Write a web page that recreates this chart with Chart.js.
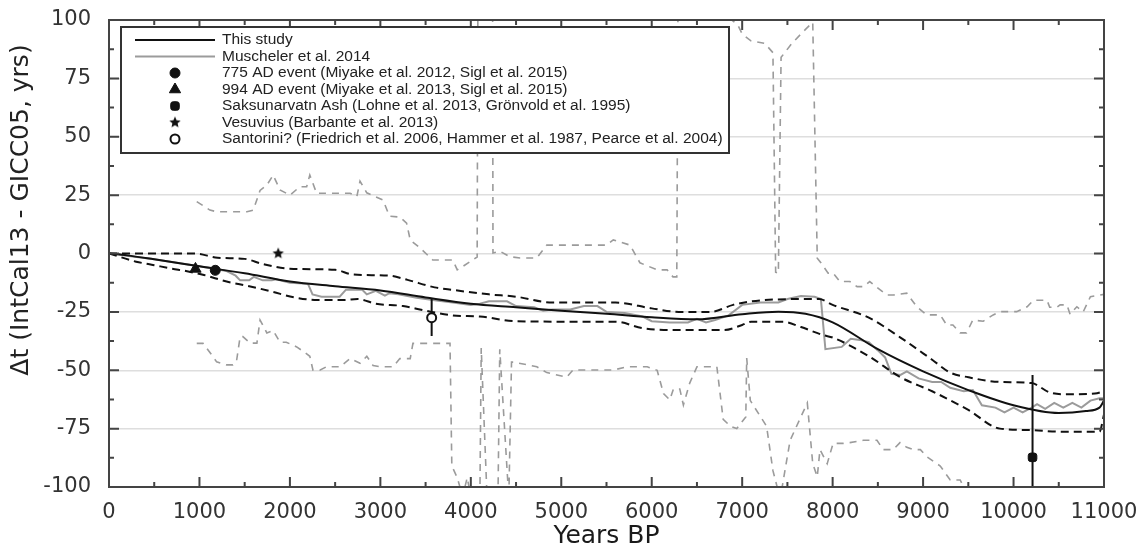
<!DOCTYPE html>
<html lang="en">
<head>
<meta charset="UTF-8">
<title>IntCal13 - GICC05</title>
<script src="https://cdn.jsdelivr.net/npm/chart.js"></script>
<style>
  body { margin: 0; background: #fff; }
  #myChart { display: block; }
</style>
</head>
<body>
<canvas id="myChart" width="1145" height="551"></canvas>
<script>
// ---- data (years BP, delta t in yrs) ----
const xTicks = [0, 1000, 2000, 3000, 4000, 5000, 6000, 7000, 8000, 9000, 10000, 11000];
const yTicks = [-100, -75, -50, -25, 0, 25, 50, 75, 100];

const studyYears = [0, 200, 500, 1000, 1500, 2000, 2500, 3000, 3500, 4000, 4500, 5000, 5500, 6000, 6500, 7000, 7400, 7700, 8000, 8500, 9000, 9500, 10000, 10500, 10800, 10950, 11000];
const studyVals  = [0, -0.8, -2.5, -5.5, -8.5, -12, -14, -15.8, -18.8, -21.5, -23, -24.5, -25.8, -27.3, -28.2, -26, -24.9, -25.8, -29.5, -41, -50.5, -58.5, -65, -68.3, -67.5, -66, -63];

const upperYears = [0, 950, 1200, 1500, 1700, 2000, 2500, 2700, 3100, 3300, 3600, 3800, 4200, 4500, 4900, 5600, 6000, 6300, 6650, 6900, 7100, 7650, 7850, 8000, 8400, 8750, 9100, 9300, 9500, 9850, 10200, 10400, 10600, 10900, 11000];
const upperVals  = [0, 0, -1.8, -2.3, -4.5, -6.5, -7, -9, -9.5, -11.3, -14.5, -15.6, -17.5, -18.5, -21, -21, -23.5, -25, -25, -22, -20.5, -19.5, -19.5, -22, -27.5, -36, -45.5, -51, -53, -55, -55.5, -59.5, -60.3, -60, -59];

const lowerYears = [0, 300, 500, 700, 850, 1050, 1300, 1550, 1800, 2050, 2300, 2600, 2750, 2950, 3250, 3500, 3800, 4100, 4500, 5200, 5600, 5900, 6200, 6800, 7000, 7100, 7450, 7650, 7900, 8000, 8400, 8750, 9100, 9500, 9850, 10200, 10500, 10950, 11000];
const lowerVals  = [0, -3.5, -5, -6.5, -7.5, -9.2, -12, -14, -16.3, -18.8, -19.9, -19.9, -19.5, -21.5, -22.5, -24.5, -26.5, -27, -29, -29.2, -29.2, -32, -32.8, -32.8, -30.6, -29.2, -29.2, -31.5, -35, -36, -44, -53, -59, -67, -75, -75.6, -76.3, -76.3, -69];

const muschYears = [0, 500, 1000, 1300, 1400, 1450, 1550, 1600, 1700, 1800, 1850, 2000, 2200, 2250, 2350, 2550, 2620, 2800, 2850, 2950, 3050, 3100, 3200, 3400, 3600, 3800, 4000, 4100, 4200, 4400, 4500, 4700, 4800, 4900, 5100, 5250, 5400, 5500, 5700, 5900, 6000, 6200, 6400, 6500, 6600, 6700, 6850, 7000, 7200, 7400, 7500, 7650, 7800, 7870, 7920, 8100, 8200, 8300, 8400, 8500, 8580, 8650, 8750, 8820, 8950, 9100, 9200, 9300, 9450, 9550, 9650, 9800, 9900, 10000, 10100, 10200, 10260, 10350, 10450, 10550, 10650, 10750, 10850, 10950, 11000];
const muschVals  = [0, -2.5, -5.5, -7.5, -9.5, -11.5, -11.5, -10, -11.5, -11.5, -11, -12.5, -13, -17.5, -18.5, -18.5, -15.5, -15.5, -17.5, -16, -18, -17, -17.5, -19, -20, -21, -22, -21.5, -20.5, -20.5, -22.5, -23, -24.5, -24, -24, -22.5, -22.5, -25, -25.5, -27, -29, -29.5, -29.5, -28, -29.5, -28.5, -26.5, -22, -21, -21, -19.5, -18.2, -18.5, -19.5, -41, -40, -36.5, -37, -38, -41.5, -44.5, -51.5, -52, -50.5, -53.5, -55, -55, -57.5, -59, -58.5, -65, -66, -68, -66, -68, -66, -64.5, -66.5, -64, -66, -64, -66, -63, -62, -62];

const envUpYears = [970, 1115, 1190, 1525, 1595, 1670, 1745, 1815, 1890, 2000, 2110, 2185, 2220, 2295, 2665, 2740, 2775, 2850, 3030, 3100, 3215, 3290, 3330, 3440, 3580, 3800, 3850, 3910, 4070, 4080, 4240, 4245, 4320, 4430, 4545, 4730, 4840, 5500, 5575, 5760, 5870, 6060, 6170, 6235, 6277, 6290, 6750, 6850, 6950, 7000, 7100, 7250, 7340, 7370, 7400, 7430, 7550, 7700, 7780, 7830, 7870, 7950, 8005, 8080, 8190, 8270, 8340, 8410, 8490, 8600, 8670, 8820, 8930, 9040, 9190, 9260, 9330, 9410, 9480, 9550, 9665, 9775, 9850, 10035, 10150, 10220, 10370, 10400, 10480, 10515, 10590, 10625, 10700, 10770, 10850, 11000];
const envUpVals  = [22.2, 18.6, 17.9, 17.9, 18.6, 27, 29.3, 33.6, 27.2, 25, 28.6, 28.6, 33.6, 25.8, 25.8, 24.4, 31, 26, 22.9, 16, 15.6, 13, 5.8, 2.3, -2.8, -2.8, -7, -5.6, -1.5, 130, 130, 0.2, 1, -1.4, -1.9, -1.9, 3.6, 3.6, 5.8, 3.6, -4, -7, -7, -10, -10, 104, 104, 101, 98, 94, 91, 90, 86, -8, -8.5, 84, 90, 96, 99, -2, -4, -8.4, -8.4, -12, -12, -14.2, -14.2, -12, -14.5, -17.8, -17.8, -17, -22.8, -26.3, -26.3, -30.6, -30.6, -34, -34, -28.5, -29, -26.3, -24.9, -24.9, -22.8, -20, -20, -23, -23, -22, -22, -26, -22.8, -25, -18.5, -17.5];

const envLoYears = [970, 1040, 1120, 1190, 1300, 1370, 1410, 1450, 1480, 1560, 1635, 1670, 1745, 1815, 1890, 1960, 2075, 2150, 2220, 2255, 2330, 2405, 2555, 2665, 2775, 2850, 2920, 3000, 3140, 3215, 3330, 3360, 3770, 3790, 3850, 3910, 3960, 4000, 4100, 4115, 4180, 4300, 4320, 4420, 4450, 4470, 4730, 4840, 5060, 5130, 5575, 5730, 5950, 6060, 6130, 6200, 6240, 6310, 6350, 6420, 6500, 6720, 6790, 6870, 6940, 7040, 7050, 7090, 7270, 7340, 7420, 7530, 7720, 7780, 7830, 7860, 7940, 8005, 8120, 8190, 8340, 8490, 8560, 8670, 8745, 8820, 8890, 8970, 9040, 9190, 9300, 9410, 9500, 9600];
const envLoVals  = [-38.5, -38.5, -42.6, -46.4, -47.7, -47.7, -46, -35.6, -35.6, -38.4, -38.4, -28.5, -34, -33, -38, -38, -40, -42, -44, -50, -50, -48.5, -48.5, -45, -47, -44, -48, -48.5, -48.5, -45, -45, -38.5, -38.5, -91, -96, -104, -96, -104, -105, -40.5, -105, -105, -41, -105, -46.5, -46.5, -48.5, -51, -53, -49.9, -49.9, -48.5, -48.5, -50, -60, -62.7, -58, -58, -64.9, -55.5, -48.5, -48.5, -71, -74, -75, -70, -44.8, -63, -74, -93, -105, -80, -64, -90, -95.6, -84, -90, -81.3, -81.3, -81, -80, -80, -84, -84, -81, -83, -84, -84, -87, -91, -97, -97, -104, -112];

// event markers
const event775 = [1175, -7.2];
const event994 = [956, -6.6];
const saksunarvatn = [10210, -87.3];
const saksunarvatnBar = [-52, -115];
const vesuvius = [1871, 0];
const santorini = [3567, -27.5];
const santoriniBar = [-19.2, -35.3];

const pts = (xs, ys) => xs.map((x, i) => ({ x: x, y: ys[i] }));

// filled star for Vesuvius
function makeStar(r) {
    const c = document.createElement('canvas');
    c.width = c.height = 2 * r + 2;
    const g = c.getContext('2d');
    g.beginPath();
    for (let i = 0; i < 10; i++) {
        const a = -Math.PI / 2 + i * Math.PI / 5;
        const rr = i % 2 ? r * 0.45 : r;
        g.lineTo(r + 1 + rr * Math.cos(a), r + 1 + rr * Math.sin(a));
    }
    g.closePath();
    g.fillStyle = '#111';
    g.fill();
    return c;
}
const star = makeStar(6);

const BLACK = '#111';
const GREY = '#9b9b9b';

const datasets = [
    { label: 'This study', data: pts(studyYears, studyVals), borderColor: BLACK, borderWidth: 2, pointRadius: 0, cubicInterpolationMode: 'monotone', order: 5 },
    { label: 'Muscheler et al. 2014', data: pts(muschYears, muschVals), borderColor: GREY, borderWidth: 2, pointRadius: 0, order: 7 },
    { label: 'upper', data: pts(upperYears, upperVals), borderColor: BLACK, borderWidth: 2, borderDash: [8, 5], pointRadius: 0, cubicInterpolationMode: 'monotone', order: 6 },
    { label: 'lower', data: pts(lowerYears, lowerVals), borderColor: BLACK, borderWidth: 2, borderDash: [8, 5], pointRadius: 0, cubicInterpolationMode: 'monotone', order: 6 },
    { label: 'env up', data: pts(envUpYears, envUpVals), borderColor: GREY, borderWidth: 1.6, borderDash: [7, 6], pointRadius: 0, order: 9 },
    { label: 'env low', data: pts(envLoYears, envLoVals), borderColor: GREY, borderWidth: 1.6, borderDash: [7, 6], pointRadius: 0, order: 9 },
    { label: 'sak bar', data: [{ x: saksunarvatn[0], y: saksunarvatnBar[0] }, { x: saksunarvatn[0], y: saksunarvatnBar[1] }], borderColor: BLACK, borderWidth: 2, pointRadius: 0, order: 4 },
    { label: 'san bar', data: [{ x: santorini[0], y: santoriniBar[0] }, { x: santorini[0], y: santoriniBar[1] }], borderColor: BLACK, borderWidth: 2, pointRadius: 0, order: 4 },
    { label: '775 AD event (Miyake et al. 2012, Sigl et al. 2015)', data: [{ x: event775[0], y: event775[1] }], showLine: false, pointStyle: 'circle', pointRadius: 5, backgroundColor: BLACK, borderColor: BLACK, order: 1 },
    { label: '994 AD event (Miyake et al. 2013, Sigl et al. 2015)', data: [{ x: event994[0], y: event994[1] }], showLine: false, pointStyle: 'triangle', pointRadius: 6.5, backgroundColor: BLACK, borderColor: BLACK, order: 1 },
    { label: 'Saksunarvatn Ash (Lohne et al. 2013, Grönvold et al. 1995)', data: [{ x: saksunarvatn[0], y: saksunarvatn[1] }], showLine: false, pointStyle: 'rectRounded', pointRadius: 5, backgroundColor: BLACK, borderColor: BLACK, order: 1 },
    { label: 'Vesuvius (Barbante et al. 2013)', data: [{ x: vesuvius[0], y: vesuvius[1] }], showLine: false, pointStyle: star, order: 1 },
    { label: 'Santorini? (Friedrich et al. 2006, Hammer et al. 1987, Pearce et al. 2004)', data: [{ x: santorini[0], y: santorini[1] }], showLine: false, pointStyle: 'circle', pointRadius: 4.5, borderWidth: 2, backgroundColor: '#fff', borderColor: BLACK, order: 1 }
];

// frame with inward ticks on all four sides
const framePlugin = {
    id: 'frame',
    afterDraw(chart) {
        const { ctx, chartArea: a, scales } = chart;
        ctx.save();
        ctx.strokeStyle = '#444';
        ctx.lineWidth = 2;
        ctx.strokeRect(a.left, a.top, a.right - a.left, a.bottom - a.top);
        ctx.beginPath();
        xTicks.forEach((v, i) => {
            const p = scales.x.getPixelForValue(v);
            ctx.moveTo(p, a.bottom); ctx.lineTo(p, a.bottom - 10);
            ctx.moveTo(p, a.top); ctx.lineTo(p, a.top + 10);
            if (i < xTicks.length - 1) {
                const m = scales.x.getPixelForValue((v + xTicks[i + 1]) / 2);
                ctx.moveTo(m, a.bottom); ctx.lineTo(m, a.bottom - 5);
                ctx.moveTo(m, a.top); ctx.lineTo(m, a.top + 5);
            }
        });
        yTicks.forEach((v, i) => {
            const p = scales.y.getPixelForValue(v);
            ctx.moveTo(a.left, p); ctx.lineTo(a.left + 10, p);
            ctx.moveTo(a.right, p); ctx.lineTo(a.right - 10, p);
            if (i < yTicks.length - 1) {
                const m = scales.y.getPixelForValue((v + yTicks[i + 1]) / 2);
                ctx.moveTo(a.left, m); ctx.lineTo(a.left + 5, m);
                ctx.moveTo(a.right, m); ctx.lineTo(a.right - 5, m);
            }
        });
        ctx.stroke();

        // y axis title, placed as in the original figure
        ctx.translate(21, 210);
        ctx.rotate(-Math.PI / 2);
        ctx.font = '25px "DejaVu Sans"';
        ctx.fillStyle = '#222';
        ctx.textAlign = 'center';
        ctx.textBaseline = 'middle';
        ctx.fillText('\u0394t (IntCal13 - GICC05, yrs)', 0, 0);
        ctx.restore();
    }
};

// boxed legend in the top-left corner
const legendPlugin = {
    id: 'boxLegend',
    afterDraw(chart) {
        const ctx = chart.ctx;
        const entries = [0, 1, 8, 9, 10, 11, 12];
        ctx.save();
        ctx.fillStyle = '#fff';
        ctx.fillRect(121, 27, 608, 126);
        ctx.strokeStyle = '#333';
        ctx.lineWidth = 2;
        ctx.strokeRect(121, 27, 608, 126);
        ctx.font = '15.5px "Liberation Sans"';
        ctx.textBaseline = 'middle';
        entries.forEach((di, row) => {
            const ds = chart.data.datasets[di];
            const y = 40 + row * 16.5;
            if (ds.showLine === false) {
                const style = ds.pointStyle;
                if (style instanceof HTMLCanvasElement) {
                    ctx.drawImage(style, 175 - style.width / 2, y - style.height / 2);
                } else {
                    ctx.fillStyle = ds.backgroundColor;
                    ctx.strokeStyle = ds.borderColor;
                    ctx.lineWidth = ds.borderWidth || 1;
                    Chart.helpers.drawPoint(ctx, { pointStyle: style, radius: ds.pointRadius, borderWidth: ds.borderWidth || 1, rotation: 0 }, 175, y);
                }
            } else {
                ctx.strokeStyle = ds.borderColor;
                ctx.lineWidth = 2;
                ctx.beginPath();
                ctx.moveTo(135, y); ctx.lineTo(215, y);
                ctx.stroke();
            }
            ctx.fillStyle = '#222';
            ctx.fillText(ds.label, 222, y);
        });
        ctx.restore();
    }
};

const tickFont = { family: 'DejaVu Sans', size: 21 };

new Chart(document.getElementById('myChart'), {
    type: 'line',
    data: { datasets: datasets },
    options: {
        responsive: false,
        animation: false,
        layout: { padding: { top: 20, right: 41, left: 0, bottom: 0 } },
        plugins: { legend: { display: false }, tooltip: { enabled: false } },
        scales: {
            x: {
                type: 'linear', min: 0, max: 11000,
                ticks: { stepSize: 1000, padding: 5, font: tickFont, color: '#333', maxRotation: 0, autoSkip: false, callback: v => String(v) },
                grid: { display: false },
                border: { display: false },
                title: { display: true, text: 'Years BP', font: { family: 'DejaVu Sans', size: 25 }, color: '#1a1a1a', padding: 0 },
                afterFit(s) { s.height = 64; s.paddingLeft = 0; s.paddingRight = 0; }
            },
            y: {
                min: -100, max: 100,
                ticks: { stepSize: 25, padding: 18, font: tickFont, color: '#333' },
                grid: {
                    color: c => (c.tick && Math.abs(c.tick.value) === 100) ? 'rgba(0,0,0,0)' : '#dedede',
                    lineWidth: 1.5, drawTicks: false
                },
                border: { display: false },
                afterFit(s) { s.width = 109; s.paddingTop = 0; s.paddingBottom = 0; }
            }
        }
    },
    plugins: [framePlugin, legendPlugin]
});
</script>
</body>
</html>
